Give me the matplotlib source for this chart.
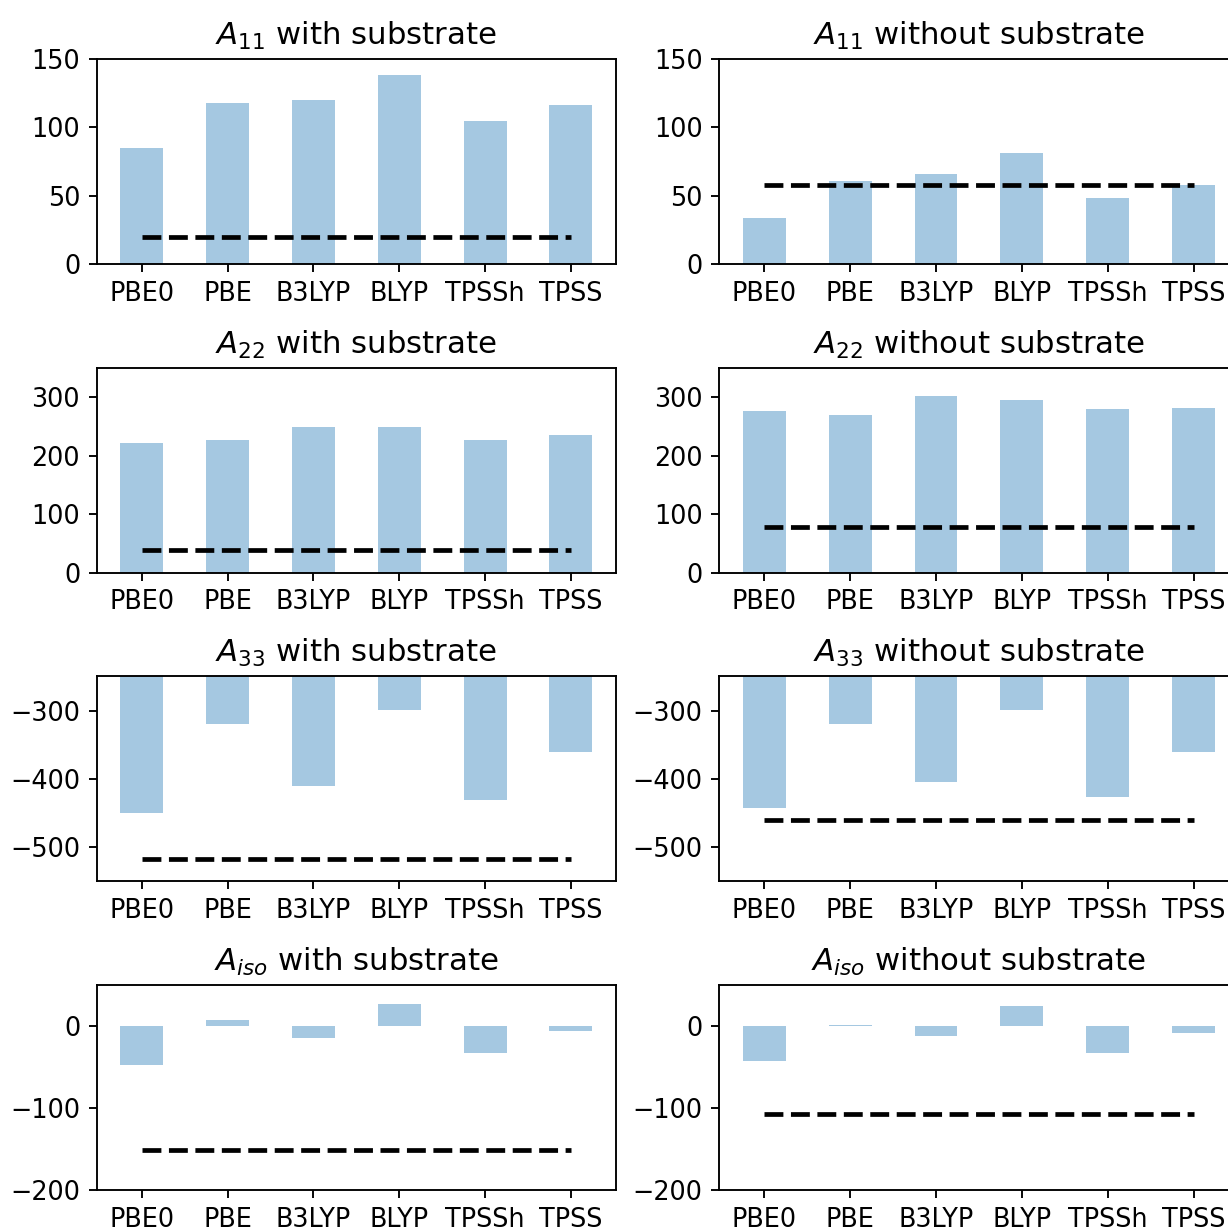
import matplotlib
matplotlib.use("Agg")
import matplotlib.pyplot as plt
import numpy as np

# functionals on the x axis
methods = ['PBE0', 'PBE', 'B3LYP', 'BLYP', 'TPSSh', 'TPSS']

# hyperfine components (MHz), with / without substrate
a11_with = [85, 118, 120, 138, 105, 116]
a11_without = [34, 61, 66, 81, 48.5, 58]
a22_with = [222, 226, 248, 248, 226, 235]
a22_without = [276, 269, 301, 294, 279, 282]
a33_with = [-450, -320, -410, -299, -431, -361]
a33_without = [-443, -320, -404, -299, -426, -361]
aiso_with = [-48, 7, -14.5, 27.5, -32.5, -6]
aiso_without = [-43, 1.5, -12.5, 25, -32.5, -8]

# experimental reference values (dashed lines)
ref_with = [20, 38, -517, -151.5]
ref_without = [57.5, 78, -460, -107]

names = ['11', '22', '33', 'iso']
ylims = [(0, 150), (0, 350), (-550, -250), (-200, 50)]
yticks = [[0, 50, 100, 150], [0, 100, 200, 300], [-500, -400, -300], [-200, -100, 0]]

data_with = [a11_with, a22_with, a33_with, aiso_with]
data_without = [a11_without, a22_without, a33_without, aiso_without]

plt.rcParams['font.size'] = 10.8
plt.rcParams['axes.titlesize'] = 13

fig = plt.figure(figsize=(1228 / 170, 1231 / 170), dpi=170)

x = np.arange(len(methods))
lefts = [96.7 / 1228, 719.3 / 1228]
width = 519.3 / 1228
height = 205 / 1231

for i in range(4):
    bottom = 1 - (264 + 308.7 * i) / 1231
    for j, (vals, ref, label) in enumerate([(data_with[i], ref_with[i], 'with'),
                                             (data_without[i], ref_without[i], 'without')]):
        ax = fig.add_axes([lefts[j], bottom, width, height])
        ax.bar(x, vals, width=0.5, color='C0', alpha=0.4)
        ax.hlines(ref, 0, len(methods) - 1, colors='k', linestyles=(0, (4.0, 1.6)), lw=2)
        ax.set_xticks(x)
        ax.set_xticklabels(methods)
        ax.set_ylim(*ylims[i])
        ax.set_yticks(yticks[i])
        ax.set_title(r'$A_{%s}$ %s substrate' % (names[i], label))

fig.savefig('out.png', dpi=170)
